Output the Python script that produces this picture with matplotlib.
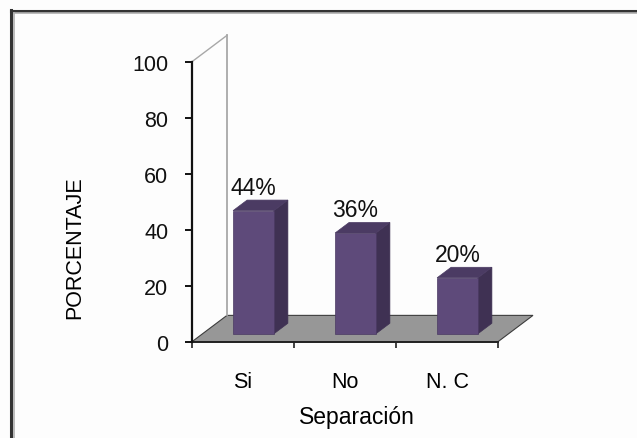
import matplotlib
matplotlib.use("Agg")
import matplotlib.pyplot as plt
from matplotlib.patches import Polygon
from matplotlib.lines import Line2D

categories = ["Si", "No", "N. C"]
values = [44, 36, 20]
y_ticks = [0, 20, 40, 60, 80, 100]

FONT = "Liberation Sans"
DX, DY = 0.343, 9.4          # depth offset of the 3-D floor, in data units
BAR_W = 0.40
FRONT, BACK = 0.30, 0.70     # bar position inside the depth

FACE = "#5e4a7a"
SIDE = "#3f3153"
TOP = "#4b3b63"

fig = plt.figure(figsize=(6.37, 4.39), dpi=100, facecolor="#fdfdfd")
ax = fig.add_axes([192 / 637, 96.3 / 439, 306 / 637, 280 / 439])
ax.set_facecolor("none")
ax.set_xlim(0, len(categories))
ax.set_ylim(0, 100)

# floor
floor = Polygon([(0, 0), (len(categories), 0), (len(categories) + DX, DY), (DX, DY)],
                closed=True, facecolor="#979797", edgecolor="#3c3c3c", lw=0.8,
                clip_on=False, zorder=1)
ax.add_patch(floor)

# back/side wall edges
ax.plot([DX, DX], [DY, 100 + DY], color="#a8a8a8", lw=1.3, clip_on=False, zorder=1.5)
ax.plot([0, DX], [100, 100 + DY], color="#a8a8a8", lw=1.0, clip_on=False, zorder=1.5)

for i, v in enumerate(values):
    x0 = i + 0.5 - BAR_W / 2 + FRONT * DX
    x1 = x0 + BAR_W
    y0 = FRONT * DY
    ddx = (BACK - FRONT) * DX
    ddy = (BACK - FRONT) * DY
    side = Polygon([(x1, y0), (x1 + ddx, y0 + ddy), (x1 + ddx, y0 + ddy + v), (x1, y0 + v)],
                   facecolor=SIDE, edgecolor=SIDE, lw=0.5, clip_on=False, zorder=3)
    top = Polygon([(x0, y0 + v), (x1, y0 + v), (x1 + ddx, y0 + ddy + v), (x0 + ddx, y0 + ddy + v)],
                  facecolor=TOP, edgecolor=TOP, lw=0.5, clip_on=False, zorder=3)
    front = Polygon([(x0, y0), (x1, y0), (x1, y0 + v), (x0, y0 + v)],
                    facecolor=FACE, edgecolor="#4a3a62", lw=0.5, clip_on=False, zorder=4)
    for p in (side, top, front):
        ax.add_patch(p)
    ax.text((x0 + x1) / 2, v + 11.2, f"{v}%", ha="center", va="center",
            fontsize=16.5, family=FONT, color="#111111", zorder=5)

for s in ("top", "right"):
    ax.spines[s].set_visible(False)
ax.spines["left"].set_linewidth(1.6)
ax.spines["bottom"].set_linewidth(1.4)
ax.spines["left"].set_color("#111111")
ax.spines["bottom"].set_color("#222222")
ax.spines["left"].set_zorder(6)

ax.set_yticks(y_ticks)
ax.set_yticklabels([str(t) for t in y_ticks], family=FONT, fontsize=15.5)
ax.tick_params(axis="y", direction="out", length=5, width=1.4, pad=12, colors="#111111")

ax.set_xticks(range(len(categories) + 1))
ax.set_xticklabels([])
ax.tick_params(axis="x", which="major", direction="out", length=4.5, width=1.2, color="#222222")
ax.set_xticks([i + 0.5 for i in range(len(categories))], minor=True)
ax.set_xticklabels(categories, minor=True, family=FONT, fontsize=15.5)
ax.tick_params(axis="x", which="minor", length=0, pad=21)

fig.text(357 / 637, 1 - 418 / 439, "Separación", ha="center", va="center",
         family=FONT, fontsize=16.5)
fig.text(75 / 637, 1 - 248 / 439, "PORCENTAJE", ha="center", va="center",
         rotation=90, family=FONT, fontsize=15.5)

# outer frame (top and left edges)
fig.add_artist(Line2D([10.5 / 637, 1], [1 - 12 / 439] * 2, transform=fig.transFigure,
                      color="#333333", lw=2.2))
fig.add_artist(Line2D([13 / 637, 1], [1 - 14.3 / 439] * 2, transform=fig.transFigure,
                      color="#b0b0b0", lw=1.2))
fig.add_artist(Line2D([11 / 637] * 2, [0, 1 - 11 / 439], transform=fig.transFigure,
                      color="#333333", lw=2.2))
fig.add_artist(Line2D([13.8 / 637] * 2, [0, 1 - 13.5 / 439], transform=fig.transFigure,
                      color="#b0b0b0", lw=1.2))

fig.savefig("out.png", dpi=100, facecolor=fig.get_facecolor())
